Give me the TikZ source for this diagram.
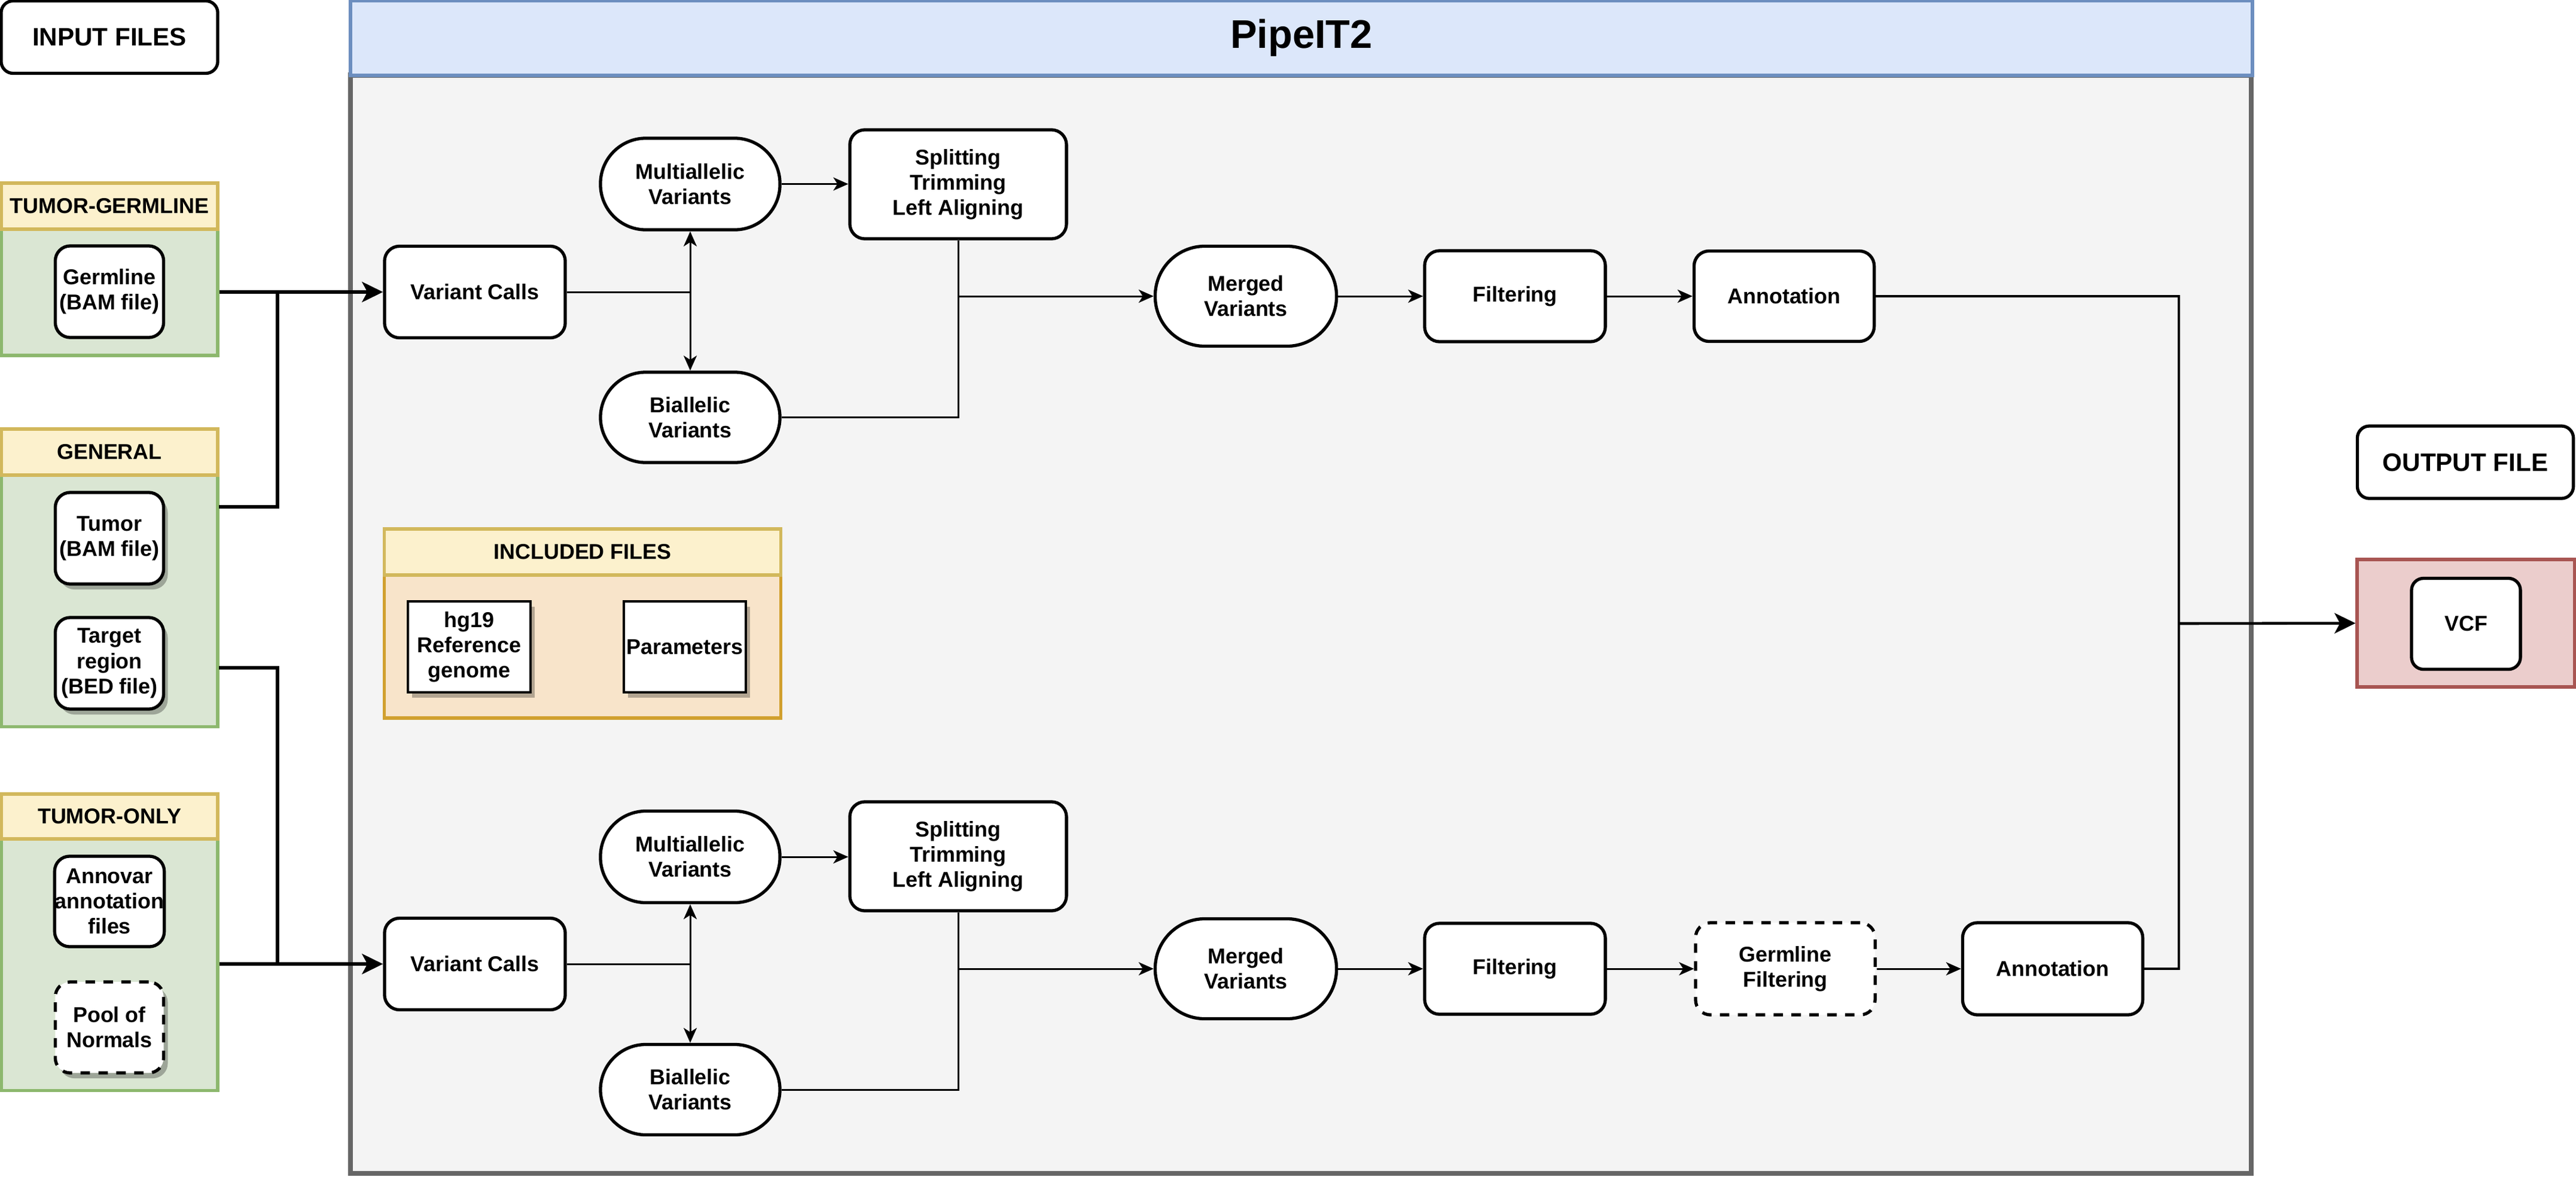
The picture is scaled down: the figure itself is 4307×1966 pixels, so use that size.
\documentclass[tikz,border=0pt]{standalone}
\usepackage{fontspec}
\setmainfont{Liberation Sans}
\usetikzlibrary{arrows.meta,shadows}

\definecolor{headblue}{HTML}{DCE7FA}
\definecolor{headbluedraw}{HTML}{6C8EBF}
\definecolor{pipegray}{HTML}{F4F4F4}
\definecolor{pipegraydraw}{HTML}{666666}
\definecolor{grpyellow}{HTML}{FCF1CD}
\definecolor{grpyellowdraw}{HTML}{D2B85C}
\definecolor{grpgreen}{HTML}{DAE6D3}
\definecolor{grpgreendraw}{HTML}{8DB86E}
\definecolor{grporange}{HTML}{F8E4CA}
\definecolor{grporangedraw}{HTML}{D1A02E}
\definecolor{grpred}{HTML}{EBCDCC}
\definecolor{grpreddraw}{HTML}{A85552}

\newcommand{\boxfont}{\bfseries\fontsize{10.2}{12}\selectfont}

\begin{document}
\begin{tikzpicture}[x=0.01cm,y=-0.01cm,
  every node/.style={font=\boxfont, align=center, inner sep=0pt},
  procbox/.style={draw, line width=1.5pt, fill=white, rounded corners=0.25cm,
    minimum width=3.02cm, minimum height=1.53cm},
  roundbox/.style={draw, line width=1.5pt, fill=white, rounded corners=0.76cm,
    minimum width=3.0cm, minimum height=1.53cm},
  filebox/.style={procbox, minimum width=1.81cm},
  plainbox/.style={draw, line width=0.9pt, fill=white, minimum height=1.52cm},
  shadowed/.style={drop shadow={shadow xshift=0.07cm, shadow yshift=-0.09cm,
    fill=black, opacity=0.28}},
  dashedbox/.style={dash pattern=on 4.5pt off 4pt},
  titlebox/.style={draw, line width=1.5pt, fill=white, rounded corners=0.2cm,
    font=\bfseries\fontsize{12}{14}\selectfont},
  grphead/.style={draw=grpyellowdraw, fill=grpyellow, line width=1.5pt,
    minimum width=3.62cm, minimum height=0.77cm},
  grpbody/.style={draw=grpgreendraw, fill=grpgreen, line width=1.5pt,
    minimum width=3.62cm},
  thinwire/.style={line width=0.85pt},
  thickwire/.style={line width=1.5pt},
  outwire/.style={line width=1.3pt},
  tipsmall/.style={-{Stealth[length=0.25cm, width=0.22cm, inset=0.07cm]}},
  tipboth/.style={{Stealth[length=0.25cm, width=0.22cm, inset=0.07cm]}-{Stealth[length=0.25cm, width=0.22cm, inset=0.07cm]}},
  tipbig/.style={-{Stealth[length=0.35cm, width=0.34cm, inset=0.09cm]}}]

\useasboundingbox (0,0) rectangle (4307,1966);

% pipeline frame
\node[draw=pipegraydraw, fill=pipegray, line width=2.3pt,
  minimum width=31.76cm, minimum height=18.34cm] (pipe) at (2175,1043) {};
\node[draw=headbluedraw, fill=headblue, line width=1.7pt,
  minimum width=31.78cm, minimum height=1.25cm,
  font=\bfseries\fontsize{19}{22}\selectfont] (pipehead) at (2176,63.5) {PipeIT2};

% input files
\node[titlebox, minimum width=3.62cm, minimum height=1.21cm] (inhead) at (183,62) {INPUT FILES};

\node[grpbody, minimum height=2.11cm] (tgbody) at (183,488.5) {};
\node[grphead] (tghead) at (183,344.5) {TUMOR-GERMLINE};
\node[filebox] (germ) at (183,487.5) {Germline\\(BAM file)};

\node[grpbody, minimum height=4.20cm] (genbody) at (183,1004) {};
\node[grphead] (genhead) at (183,755.5) {GENERAL};
\node[filebox, shadowed] (tumor) at (183,899.5) {Tumor\\(BAM file)};
\node[filebox, shadowed] (bed) at (183,1108.5) {Target\\region\\(BED file)};

\node[grpbody, minimum height=4.20cm] (tobody) at (183,1612) {};
\node[grphead, minimum height=0.75cm] (tohead) at (183,1364.5) {TUMOR-ONLY};
\node[filebox, minimum height=1.51cm] (annovar) at (183,1506.5) {Annovar\\annotation\\files};
\node[filebox, dashedbox, shadowed, minimum height=1.52cm] (pon) at (183,1717) {Pool of\\Normals};

% included files
\node[draw=grporangedraw, fill=grporange, line width=1.5pt,
  minimum width=6.62cm, minimum height=2.40cm] (incbody) at (974,1080) {};
\node[grphead, minimum width=6.62cm] (inchead) at (974,922.5) {INCLUDED FILES};
\node[plainbox, shadowed, minimum width=2.05cm] (hg) at (784.5,1081) {hg19\\Reference\\genome};
\node[plainbox, shadowed, minimum width=2.04cm] (params) at (1145,1081) {Parameters};

% tumor-germline branch
\node[procbox] (vc1) at (794,488) {Variant Calls};
\node[roundbox] (multi1) at (1154,307.5) {Multiallelic\\Variants};
\node[roundbox, minimum height=1.51cm] (bi1) at (1154,697.5) {Biallelic\\Variants};
\node[procbox, minimum width=3.62cm, minimum height=1.82cm] (split1) at (1602,308) {Splitting\\Trimming\\Left Aligning};
\node[roundbox, minimum width=3.03cm, minimum height=1.67cm, rounded corners=0.83cm] (merged1) at (2083,495) {Merged\\Variants};
\node[procbox, minimum height=1.52cm] (filt1) at (2533,495) {Filtering};
\node[procbox, minimum width=3.01cm, minimum height=1.51cm] (annot1) at (2983,495) {Annotation};

% tumor-only branch
\node[procbox] (vc2) at (794,1611) {Variant Calls};
\node[roundbox] (multi2) at (1154,1432) {Multiallelic\\Variants};
\node[roundbox, minimum height=1.51cm] (bi2) at (1154,1821) {Biallelic\\Variants};
\node[procbox, minimum width=3.62cm, minimum height=1.82cm] (split2) at (1602,1431) {Splitting\\Trimming\\Left Aligning};
\node[roundbox, minimum width=3.03cm, minimum height=1.67cm, rounded corners=0.83cm] (merged2) at (2083,1619) {Merged\\Variants};
\node[procbox, minimum height=1.52cm] (filt2) at (2533,1619) {Filtering};
\node[procbox, dashedbox, minimum width=3.0cm, minimum height=1.54cm] (gfilt) at (2985,1619) {Germline\\Filtering};
\node[procbox, minimum width=3.01cm, minimum height=1.54cm] (annot2) at (3432,1619) {Annotation};

% output file
\node[titlebox, minimum width=3.61cm, minimum height=1.21cm] (outhead) at (4122,772.5) {OUTPUT FILE};
\node[draw=grpreddraw, fill=grpred, line width=1.5pt,
  minimum width=3.63cm, minimum height=2.13cm] (vcfgrp) at (4122.5,1041.5) {};
\node[procbox, minimum width=1.82cm, minimum height=1.52cm, rounded corners=0.2cm] (vcf) at (4123,1042.5) {VCF};

% connectors
\coordinate (jtop) at (464,488);
\coordinate (jbot) at (464,1611);
\coordinate (genout) at (366,847);
\coordinate (bedout) at (366,1116);
\coordinate (outjoin) at (3643,1042);

\draw[thickwire, tipbig] (tgbody.east |- vc1.west) -- (vc1.west);
\draw[thickwire] (genout) -| (jtop);
\draw[thickwire] (bedout) -| (jbot);
\draw[thickwire, tipbig] (tobody.east |- vc2.west) -- (vc2.west);

\draw[thinwire] (vc1.east) -- (vc1.east -| multi1.south);
\draw[thinwire, tipboth] (multi1.south) -- (bi1.north);
\draw[thinwire, tipsmall] (multi1.east) -- (multi1.east -| split1.west);
\draw[thinwire] (bi1.east) -| (split1.south);
\draw[thinwire, tipsmall] (split1.south |- merged1.west) -- (merged1.west);
\draw[thinwire, tipsmall] (merged1) -- (filt1);
\draw[thinwire, tipsmall] (filt1) -- (annot1);

\draw[thinwire] (vc2.east) -- (vc2.east -| multi2.south);
\draw[thinwire, tipboth] (multi2.south) -- (bi2.north);
\draw[thinwire, tipsmall] (multi2.east) -- (multi2.east -| split2.west);
\draw[thinwire] (bi2.east) -| (split2.south);
\draw[thinwire, tipsmall] (split2.south |- merged2.west) -- (merged2.west);
\draw[thinwire, tipsmall] (merged2) -- (filt2);
\draw[thinwire, tipsmall] (filt2) -- (gfilt);
\draw[thinwire, tipsmall] (gfilt) -- (annot2);

\draw[outwire] (annot1.east) -| (outjoin);
\draw[outwire] (annot2.east) -| (outjoin);
\draw[outwire, tipbig] (outjoin) -- (vcfgrp.west);

\end{tikzpicture}
\end{document}
